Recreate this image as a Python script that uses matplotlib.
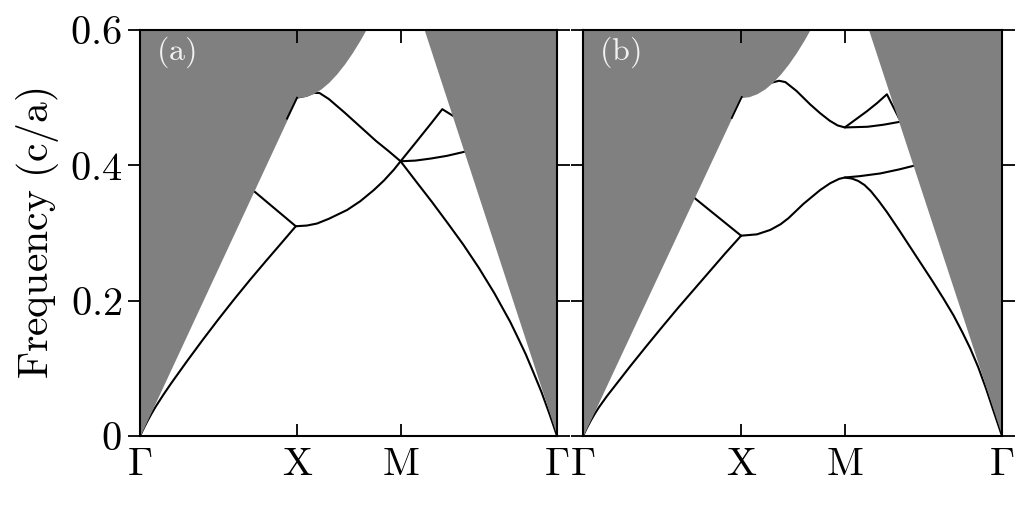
import matplotlib
matplotlib.use("Agg")
import matplotlib.pyplot as plt

plt.rcParams['mathtext.fontset'] = 'cm'
plt.rcParams['font.family'] = ['DejaVu Serif']

# ---- data ----
# high-symmetry points (k-axis positions) and labels
k_points = [0.0, 1.0, 1.656, 2.65]
k_labels = [r'$\Gamma$', r'$\mathrm{X}$', r'$\mathrm{M}$', r'$\Gamma$']
y_ticks = [0.0, 0.2, 0.4, 0.6]
y_tick_labels = [r'$0$', r'$0.2$', r'$0.4$', r'$0.6$']
panel_labels = [r'$\mathrm{(a)}$', r'$\mathrm{(b)}$']

# light line (upper boundary of guided region)
light_k = [0.0, 1.0, 1.05, 1.1, 1.15, 1.2, 1.25, 1.3, 1.35, 1.4, 1.45, 1.656, 2.65]
light_f = [0.0, 0.5, 0.5015, 0.5058, 0.5129, 0.5227, 0.5351, 0.5498, 0.5667, 0.5856, 0.6064, 0.707, 0.0]

# panel (a) bands
a_low_k = [0, 0.025, 0.05, 0.075, 0.1, 0.15, 0.2, 0.3, 0.4, 0.5, 0.6, 0.7, 0.8, 0.9, 0.99]
a_low_f = [0, 0.012, 0.0232, 0.0337, 0.0435, 0.0615, 0.0785, 0.111, 0.1425, 0.173, 0.2025, 0.231,
           0.2585, 0.2855, 0.310]
a_branch_k = [0.68, 0.99]
a_branch_f = [0.3705, 0.310]
a_xm_k = [0.99, 1.06, 1.125, 1.2, 1.316, 1.4, 1.486, 1.55, 1.613, 1.656, 1.75, 1.85, 1.921, 1.99]
a_xm_f = [0.310, 0.311, 0.314, 0.321, 0.334, 0.347, 0.3635, 0.3775, 0.3935, 0.406, 0.433, 0.462,
          0.483, 0.473]
a_up_k = [0.998, 1.06, 1.1, 1.14, 1.2, 1.3, 1.4, 1.5, 1.58, 1.656, 1.755, 1.855, 1.954, 2.054,
          2.153, 2.252, 2.352, 2.40, 2.451, 2.50, 2.551, 2.60, 2.625, 2.65]
a_up_f = [0.500, 0.503, 0.507, 0.507, 0.498, 0.478, 0.457, 0.436, 0.421, 0.406, 0.376, 0.346, 0.315,
          0.283, 0.2486, 0.211, 0.169, 0.146, 0.121, 0.094, 0.0652, 0.034, 0.0172, 0.0]
a_flat_k = [1.656, 1.75, 1.847, 1.95, 2.08]
a_flat_f = [0.406, 0.407, 0.410, 0.414, 0.421]
a_edge_k = [0.934, 0.998]
a_edge_f = [0.469, 0.500]

# panel (b) bands
b_low_k = [0, 0.025, 0.05, 0.075, 0.1, 0.15, 0.2, 0.3, 0.4, 0.5, 0.6, 0.7, 0.8, 0.9, 1.0]
b_low_f = [0, 0.012, 0.0230, 0.0330, 0.0422, 0.0585, 0.0735, 0.1035, 0.1325, 0.161, 0.189, 0.216,
           0.243, 0.270, 0.296]
b_branch_k = [0.68, 1.0]
b_branch_f = [0.3565, 0.296]
b_xm_k = [1.0, 1.1, 1.184, 1.25, 1.3, 1.394, 1.5, 1.563, 1.62, 1.656, 1.70, 1.74, 1.78, 1.82, 1.87,
          1.922, 2.00, 2.07, 2.14, 2.21, 2.28, 2.344, 2.40, 2.45, 2.50, 2.55, 2.60, 2.65]
b_xm_f = [0.296, 0.298, 0.3045, 0.313, 0.322, 0.343, 0.3635, 0.3735, 0.380, 0.382, 0.3805, 0.377,
          0.371, 0.362, 0.3475, 0.331, 0.304, 0.279, 0.254, 0.229, 0.203, 0.178, 0.153, 0.129,
          0.1015, 0.0695, 0.0345, 0.0]
b_lflat_k = [1.656, 1.75, 1.88, 2.0, 2.12]
b_lflat_f = [0.382, 0.384, 0.388, 0.394, 0.401]
b_up_k = [1.19, 1.24, 1.28, 1.35, 1.437, 1.5, 1.56, 1.61, 1.656, 1.72, 1.796, 1.86, 1.922, 2.0]
b_up_f = [0.522, 0.525, 0.523, 0.510, 0.490, 0.477, 0.466, 0.459, 0.456, 0.467, 0.480, 0.492, 0.505, 0.469]
b_uflat_k = [1.656, 1.8, 1.9, 2.02]
b_uflat_f = [0.456, 0.457, 0.460, 0.465]
b_edge_k = [0.941, 1.004]
b_edge_f = [0.470, 0.501]

panels = [
    [(a_low_k, a_low_f), (a_branch_k, a_branch_f), (a_xm_k, a_xm_f), (a_up_k, a_up_f), (a_flat_k, a_flat_f)],
    [(b_low_k, b_low_f), (b_branch_k, b_branch_f), (b_xm_k, b_xm_f), (b_lflat_k, b_lflat_f),
     (b_up_k, b_up_f), (b_uflat_k, b_uflat_f)],
]
edges = [(a_edge_k, a_edge_f), (b_edge_k, b_edge_f)]

W, H = 1032, 507
fig = plt.figure(figsize=(W / 100, H / 100), dpi=100)
rects = [[140 / W, 1 - 436 / H, (557 - 140) / W, (436 - 30) / H],
         [583 / W, 1 - 436 / H, (1002 - 583) / W, (436 - 30) / H]]

gray = '#808080'
for i, rect in enumerate(rects):
    ax = fig.add_axes(rect)
    for kk, ff in panels[i]:
        ax.plot(kk, ff, color='black', lw=1.5, zorder=1, solid_joinstyle='round',
                solid_capstyle='round')
    ax.fill_between(light_k, light_f, 0.6, color=gray, lw=0, zorder=1.5)
    ek, ef = edges[i]
    ax.plot(ek, ef, color='black', lw=1.3, zorder=2)
    ax.set_xlim(0, 2.65)
    ax.set_ylim(0, 0.6)
    for s in ax.spines.values():
        s.set_linewidth(1.5)
    ax.set_xticks(k_points)
    ax.set_xticklabels(k_labels, fontsize=29)
    ax.tick_params(axis='x', direction='in', length=9, width=1.3, top=True, bottom=True, pad=7)
    ax.set_yticks(y_ticks)
    ax.tick_params(axis='y', direction='out', length=9, width=1.3, left=True, right=True, pad=4)
    if i == 0:
        ax.set_yticklabels(y_tick_labels, fontsize=29)
        ax.set_ylabel(r'$\mathrm{Frequency\ (c/a)}$', fontsize=30, labelpad=6)
    else:
        ax.set_yticklabels([])
    ax.text(0.038, 0.945, panel_labels[i], transform=ax.transAxes, color='#f2f2f2',
            fontsize=23, ha='left', va='center', zorder=5)

fig.savefig('out.png', dpi=100)
